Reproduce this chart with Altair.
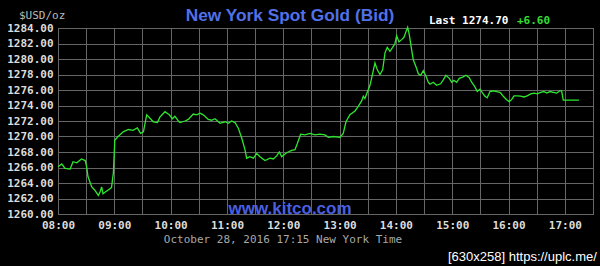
import altair as alt
import pandas as pd

# minutes after 08:00 (New York time) and spot gold bid, USD/oz
minutes = [0, 4, 7.5, 13, 16, 20, 25, 29, 30.5, 32, 36, 39, 43, 45, 46.5, 48, 50, 53.5, 57, 59,
           60.5, 64, 69.5, 75, 80, 84.5, 88, 91, 94.5, 98, 101.5, 106, 108.5, 114, 118.5, 122,
           124.5, 129,
           130, 135.3, 138.8, 144.1, 147.7, 151.3, 154.8, 160.1, 163.7, 167.3, 172.6, 177.9,
           181.4, 185, 188.6, 192.1, 195.7, 199.2, 201, 204.5, 208.1, 211.7, 215.2, 220.5,
           225.8, 229.4, 233, 235.8, 238.3, 243.6, 249, 252.5, 255, 258.5, 263.1, 268.5,
           273.8, 279.1, 284.4, 288, 293.3, 300.4, 303.9, 306.8, 311,
           316.4, 319.9, 323.5, 325.3, 327, 329.5, 332.4, 335.2, 337.7, 340.2, 343, 345.9,
           348.4, 350.8, 353.7, 356.5, 359, 360.8, 363.3, 366.1, 368.6, 370.7, 372.5, 374.2,
           376.1, 378.5, 381.4, 383.9, 386.4, 389.2, 392, 394.5,
           396.3, 399.8, 403.4, 407.7, 410.5, 413.3, 416.9, 419.4, 421.9, 424.7, 427.5, 431.8,
           434.6, 438.2, 440.7, 444.2, 446.7, 449.6, 452.4, 454.9, 457.3, 460.2, 463.7, 467.3,
           470.9, 474.4, 478, 480.8, 483.3, 485.8, 489.3, 492.9, 496.4, 499.9, 503.6, 507.1,
           510.6, 514.2, 517.7, 520.6, 524.2, 527.7, 531.3, 534.8, 536.6, 538.3, 541.9, 555]
prices = [1266.1, 1266.45, 1265.9, 1265.8, 1266.75, 1266.6, 1267.1, 1266.9, 1266.1, 1264.8,
          1263.5, 1263.1, 1262.4, 1262.9, 1263.5, 1262.6, 1262.8, 1263.1, 1263.4, 1265.3,
          1269.5, 1270.0, 1270.6, 1270.9, 1270.8, 1271.1, 1270.4, 1270.6, 1272.8, 1272.35,
          1271.9, 1271.8, 1272.5, 1273.2, 1272.8, 1272.3, 1272.6, 1271.9,
          1271.8, 1272.0, 1272.2, 1272.9, 1272.8, 1273.0, 1272.8, 1272.2, 1272.1, 1272.3,
          1271.7, 1271.9, 1271.7, 1272.0, 1271.8, 1271.06, 1269.8, 1268.3, 1267.2, 1267.4,
          1267.2, 1267.8, 1267.4, 1266.9, 1267.2, 1267.1, 1267.5, 1268.0, 1267.4, 1267.9,
          1268.2, 1268.3, 1269.1, 1270.3, 1270.2, 1270.4, 1270.2, 1270.3, 1270.2, 1269.9,
          1270.0, 1269.9, 1270.4, 1271.9, 1272.8,
          1273.3, 1273.9, 1274.6, 1275.2, 1274.9, 1275.7, 1276.6, 1278.1, 1279.5, 1278.6,
          1278.0, 1278.6, 1280.8, 1281.5, 1281.0, 1281.5, 1282.0, 1283.0, 1282.2, 1282.5,
          1282.8, 1283.5, 1284.1, 1283.2, 1281.7, 1279.9, 1279.0, 1278.1, 1277.9, 1278.5,
          1277.8, 1277.0,
          1276.75, 1277.0, 1276.6, 1276.8, 1277.3, 1277.9, 1277.5, 1277.0, 1277.25, 1277.0,
          1277.5, 1277.7, 1277.9, 1277.6, 1277.0, 1276.4, 1275.8, 1276.1, 1275.6, 1275.2,
          1275.0, 1275.8, 1275.9, 1275.8, 1275.7, 1275.2, 1274.75, 1274.5, 1274.75, 1275.25,
          1275.25, 1275.2, 1275.1, 1275.25, 1275.5, 1275.6, 1275.5, 1275.7, 1275.8, 1275.6,
          1275.8, 1275.7, 1275.6, 1275.9, 1275.9, 1274.7, 1274.7, 1274.7]

x_grid = [0, 30, 60, 90, 120, 150, 180, 210, 240, 270, 300, 330, 360, 390, 420, 450, 480,
          510, 540, 570]
hour_minutes = [0, 60, 120, 180, 240, 300, 360, 420, 480, 540]
hour_labels = ["08:00", "09:00", "10:00", "11:00", "12:00", "13:00", "14:00", "15:00",
               "16:00", "17:00"]
y_ticks = [1260, 1262, 1264, 1266, 1268, 1270, 1272, 1274, 1276, 1278, 1280, 1282, 1284]

title_text = "New York Spot Gold (Bid)"
unit_text = "$USD/oz"
last_text = "Last 1274.70"
change_text = "+6.60"
site_text = "www.kitco.com"
stamp_text = "October 28, 2016 17:15 New York Time"
mark_text = "[630x258] https://uplc.me/"

df = pd.DataFrame({"m": minutes, "p": prices})

label_expr = " : ".join(f"datum.value == {m} ? '{l}'" for m, l in zip(hour_minutes, hour_labels)) + " : ''"

MONO = "DejaVu Sans Mono"

line = alt.Chart(df).mark_line(color="#2ee62e", strokeWidth=1.3).encode(
    x=alt.X("m:Q", scale=alt.Scale(domain=[0, 570], nice=False, zero=False),
            axis=alt.Axis(values=x_grid, labelExpr=label_expr, title=None, grid=True,
                          ticks=False, domain=False, labelPadding=5, labelFont=MONO,
                          labelFontSize=11, labelFontWeight="bold", labelColor="#dcdcdc",
                          gridColor="#666666", labelFlush=False)),
    y=alt.Y("p:Q", scale=alt.Scale(domain=[1260, 1284], nice=False, zero=False),
            axis=alt.Axis(values=y_ticks, format=".2f", title=None, grid=True, ticks=False,
                          domain=False, labelPadding=5, labelFont=MONO, labelFontSize=11,
                          labelFontWeight="bold", labelColor="#dcdcdc", gridColor="#666666")),
)


def txt(s, x, y, color, size, font, weight="normal", align="left", baseline="middle"):
    return alt.Chart(pd.DataFrame({"t": [s]})).mark_text(
        color=color, fontSize=size, font=font, fontWeight=weight, align=align,
        baseline=baseline).encode(text="t:N", x=alt.value(x), y=alt.value(y))


layers = [
    line,
    txt(title_text, 232, -7, "#5270e8", 17.3, "Liberation Sans", "bold", "center", "alphabetic"),
    txt(unit_text, -39, -12.5, "#bbbbbb", 11, MONO),
    txt(last_text, 371, -7, "#ffffff", 11, MONO, "bold"),
    txt(change_text, 459, -7, "#33dd33", 11, MONO, "bold"),
    txt(site_text, 232, 185.5, "#4a5fe0", 17, "Liberation Sans", "bold", "center", "alphabetic"),
    txt(stamp_text, 225, 211.5, "#a8a8a8", 11, MONO, "normal", "center"),
    txt(mark_text, 390, 228.5, "#ffffff", 13, "Liberation Sans"),
]

chart = alt.layer(*layers).properties(
    width=535, height=186,
    autosize=alt.AutoSizeParams(type="none"),
    padding={"left": 58, "top": 28, "right": 7, "bottom": 52},
    background="#000000",
).configure_view(stroke="#8a8a8a", strokeWidth=1)

chart.save("out.html", embed_options={"renderer": "svg", "actions": False})
